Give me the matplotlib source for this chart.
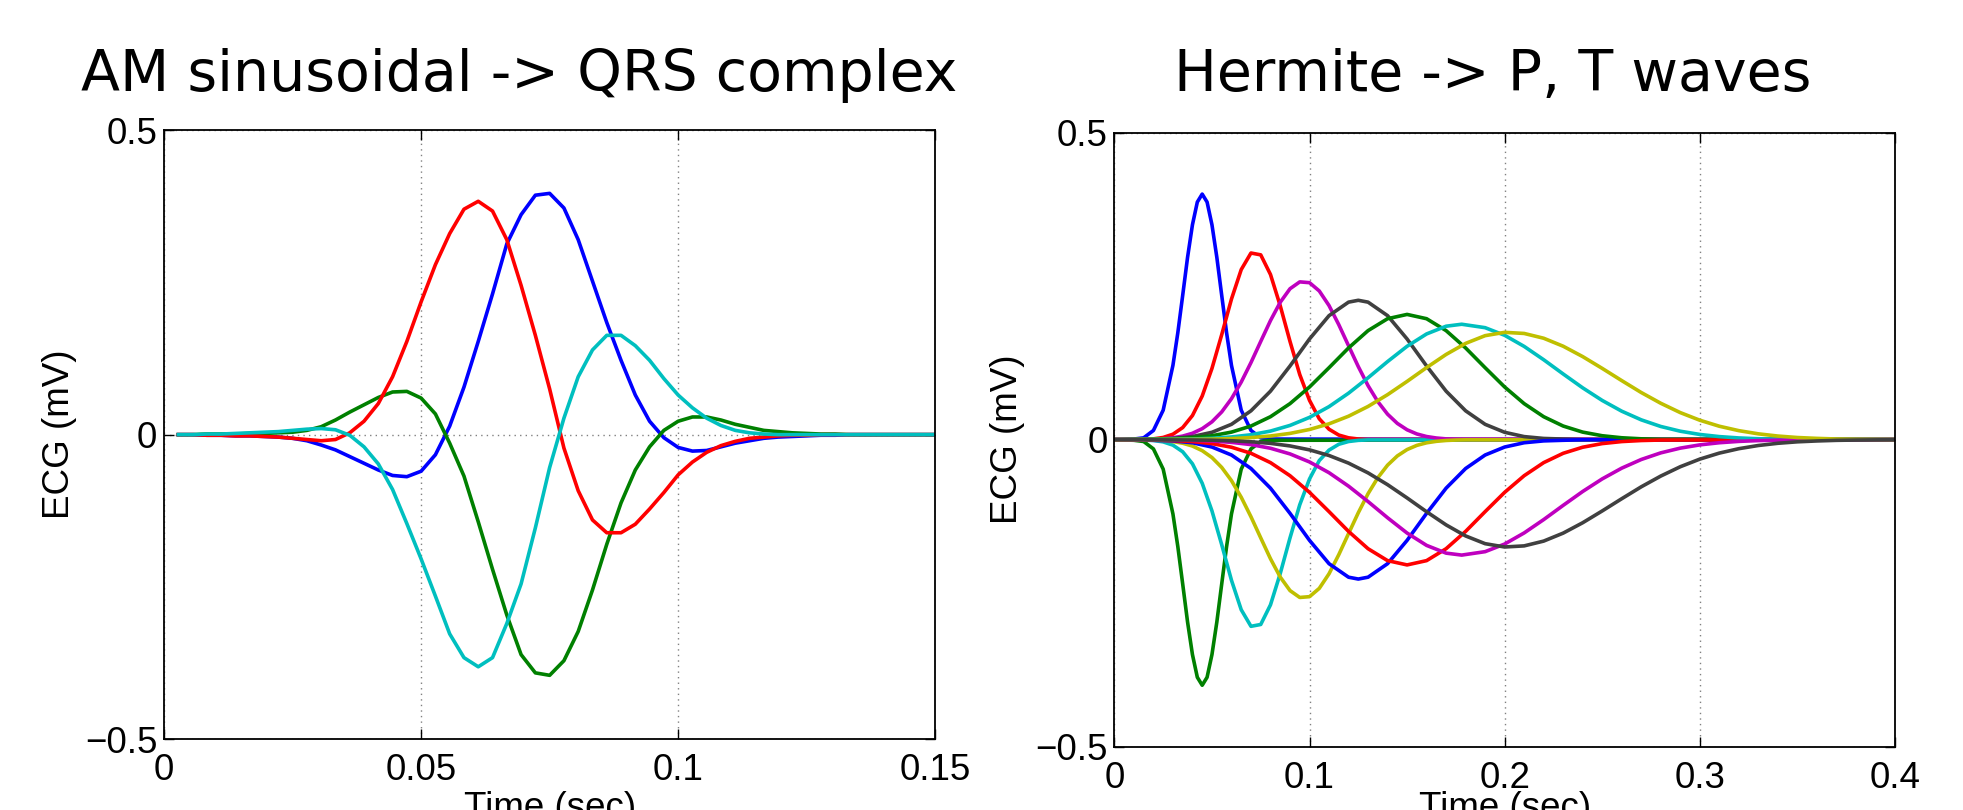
import numpy as np
import matplotlib.pyplot as plt

# ---- left panel: AM sinusoidal basis for the QRS complex (sampled at 360 Hz) ----
fs = 360.0
t_qrs = np.arange(1, 55) / fs

qrs_blue = [0, 0, -0.001, -0.001, -0.002, -0.002, -0.003, -0.004, -0.006, -0.010,
            -0.017, -0.025, -0.036, -0.047, -0.058, -0.067, -0.069, -0.060, -0.033, 0.014,
            0.078, 0.153, 0.231, 0.313, 0.361, 0.393, 0.396, 0.372, 0.320, 0.252,
            0.184, 0.122, 0.065, 0.022, -0.005, -0.021, -0.027, -0.026, -0.020, -0.014,
            -0.010, -0.006, -0.004, -0.003, -0.002, -0.001, -0.001, 0, 0, 0, 0, 0, 0, 0]
qrs_green = [0, 0, 0.001, 0.001, 0.001, 0.002, 0.002, 0.003, 0.004, 0.007,
             0.013, 0.024, 0.037, 0.049, 0.061, 0.070, 0.071, 0.060, 0.034, -0.014,
             -0.068, -0.143, -0.221, -0.296, -0.361, -0.391, -0.395, -0.371, -0.323, -0.255,
             -0.180, -0.112, -0.058, -0.020, 0.007, 0.022, 0.029, 0.029, 0.024, 0.017,
             0.012, 0.007, 0.005, 0.003, 0.002, 0.001, 0.001, 0, 0, 0, 0, 0, 0, 0]
qrs_red = [0, 0, -0.001, -0.001, -0.002, -0.002, -0.003, -0.004, -0.006, -0.008,
           -0.010, -0.008, 0.003, 0.022, 0.051, 0.095, 0.153, 0.218, 0.279, 0.330,
           0.370, 0.383, 0.367, 0.320, 0.245, 0.163, 0.075, -0.022, -0.092, -0.140,
           -0.161, -0.161, -0.147, -0.122, -0.095, -0.066, -0.045, -0.029, -0.018, -0.011,
           -0.006, -0.004, -0.002, -0.001, -0.001, 0, 0, 0, 0, 0, 0, 0, 0, 0]
qrs_cyan = [0, 0, 0.001, 0.001, 0.002, 0.003, 0.004, 0.005, 0.007, 0.009,
            0.010, 0.008, -0.001, -0.020, -0.048, -0.090, -0.146, -0.204, -0.265, -0.327,
            -0.366, -0.381, -0.366, -0.310, -0.245, -0.153, -0.054, 0.027, 0.095, 0.139,
            0.163, 0.163, 0.146, 0.122, 0.092, 0.065, 0.044, 0.027, 0.015, 0.007,
            0.003, 0.001, 0, 0, 0, 0, 0, 0, 0, 0, 0, 0, 0, 0]

# ---- right panel: Hermite basis for P and T waves, 7 widths, +/- ----
t_h0 = [0, 0.01, 0.015, 0.02, 0.025, 0.03, 0.0325, 0.035, 0.0375, 0.04, 0.0425, 0.045,
        0.0475, 0.05, 0.0525, 0.055, 0.0575, 0.06, 0.065, 0.07, 0.075, 0.08, 0.4]
h0_pos = [0, 0.001, 0.003, 0.015, 0.048, 0.121, 0.174, 0.235, 0.297, 0.350, 0.387, 0.400,
          0.387, 0.350, 0.297, 0.235, 0.174, 0.121, 0.048, 0.015, 0.003, 0.001, 0]
h0_neg = [0, -0.001, -0.003, -0.015, -0.048, -0.121, -0.174, -0.235, -0.297, -0.350, -0.387, -0.400,
          -0.387, -0.350, -0.297, -0.235, -0.174, -0.121, -0.048, -0.015, -0.003, -0.001, 0]

t_h1 = [0, 0.015, 0.02, 0.025, 0.03, 0.035, 0.04, 0.045, 0.05, 0.055, 0.06, 0.065, 0.07,
        0.075, 0.08, 0.085, 0.09, 0.095, 0.1, 0.105, 0.11, 0.115, 0.12, 0.125, 0.13, 0.4]
h1_pos = [0, 0.0005, 0.0013, 0.0036, 0.0089, 0.0197, 0.0393, 0.071, 0.116, 0.171, 0.229, 0.277, 0.304,
          0.301, 0.269, 0.218, 0.160, 0.106, 0.064, 0.034, 0.017, 0.0075, 0.003, 0.0011, 0.0004, 0]
h1_neg = [0, -0.0005, -0.0013, -0.0036, -0.0089, -0.0197, -0.0393, -0.071, -0.116, -0.171, -0.229, -0.277, -0.304,
          -0.301, -0.269, -0.218, -0.160, -0.106, -0.064, -0.034, -0.017, -0.0075, -0.003, -0.0011, -0.0004, 0]

t_h2 = [0, 0.02, 0.025, 0.03, 0.035, 0.04, 0.045, 0.05, 0.055, 0.06, 0.065, 0.07, 0.075, 0.08,
        0.085, 0.09, 0.095, 0.1, 0.105, 0.11, 0.115, 0.12, 0.125, 0.13, 0.135, 0.14, 0.145,
        0.15, 0.155, 0.16, 0.165, 0.17, 0.175, 0.18, 0.4]
h2_pos = [0, 0.0007, 0.0015, 0.0031, 0.0058, 0.0104, 0.0179, 0.0291, 0.0452, 0.0667, 0.0938, 0.1256, 0.160, 0.194,
          0.2238, 0.2458, 0.257, 0.2557, 0.2422, 0.2184, 0.1873, 0.153, 0.119, 0.088, 0.062, 0.0415, 0.0265,
          0.0161, 0.0093, 0.0051, 0.0027, 0.0013, 0.0006, 0.0003, 0]
h2_neg = [0, -0.0007, -0.0015, -0.0031, -0.0058, -0.0104, -0.0179, -0.0291, -0.0452, -0.0667, -0.0938, -0.1256, -0.160, -0.194,
          -0.2238, -0.2458, -0.257, -0.2557, -0.2422, -0.2184, -0.1873, -0.153, -0.119, -0.088, -0.062, -0.0415, -0.0265,
          -0.0161, -0.0093, -0.0051, -0.0027, -0.0013, -0.0006, -0.0003, 0]

t_h3 = [0, 0.02, 0.03, 0.04, 0.05, 0.06, 0.07, 0.08, 0.09, 0.1, 0.11, 0.12, 0.125, 0.13,
        0.14, 0.15, 0.16, 0.17, 0.18, 0.19, 0.2, 0.21, 0.22, 0.23, 0.24, 0.4]
h3_pos = [0, 0.001, 0.002, 0.005, 0.012, 0.025, 0.047, 0.079, 0.120, 0.164, 0.202, 0.224, 0.227, 0.224,
          0.202, 0.164, 0.120, 0.079, 0.047, 0.025, 0.012, 0.005, 0.002, 0.001, 0.0002, 0]
h3_neg = [0, -0.001, -0.002, -0.005, -0.012, -0.025, -0.047, -0.079, -0.120, -0.164, -0.202, -0.224, -0.227, -0.224,
          -0.202, -0.164, -0.120, -0.079, -0.047, -0.025, -0.012, -0.005, -0.002, -0.001, -0.0002, 0]

t_h4 = [0, 0.02, 0.03, 0.04, 0.05, 0.06, 0.07, 0.08, 0.09, 0.1, 0.11, 0.12, 0.13, 0.14, 0.15,
        0.16, 0.17, 0.18, 0.19, 0.2, 0.21, 0.22, 0.23, 0.24, 0.25, 0.26, 0.27, 0.28, 0.4]
h4_pos = [0, 0.0006, 0.0014, 0.0031, 0.0064, 0.0123, 0.0222, 0.0374, 0.0587, 0.0858, 0.1172, 0.1494, 0.1776, 0.197, 0.204,
          0.197, 0.1776, 0.1494, 0.1172, 0.0858, 0.0587, 0.0374, 0.0222, 0.0123, 0.0064, 0.0031, 0.0014, 0.0006, 0]
h4_neg = [0, -0.0006, -0.0014, -0.0031, -0.0064, -0.0123, -0.0222, -0.0374, -0.0587, -0.0858, -0.1172, -0.1494, -0.1776, -0.197, -0.204,
          -0.197, -0.1776, -0.1494, -0.1172, -0.0858, -0.0587, -0.0374, -0.0222, -0.0123, -0.0064, -0.0031, -0.0014, -0.0006, 0]

t_h5 = [0, 0.03, 0.04, 0.05, 0.06, 0.07, 0.08, 0.09, 0.1, 0.11, 0.12, 0.13, 0.14, 0.15, 0.16, 0.17,
        0.178, 0.19, 0.2, 0.21, 0.22, 0.23, 0.24, 0.25, 0.26, 0.27, 0.28, 0.29, 0.3, 0.31, 0.32,
        0.33, 0.34, 0.35, 0.36, 0.4]
h5_pos = [0, 0.0005, 0.0011, 0.0022, 0.0044, 0.008, 0.014, 0.0232, 0.0363, 0.0538, 0.0757, 0.1008, 0.1272, 0.1521, 0.1722, 0.1848,
          0.188, 0.1824, 0.17, 0.1519, 0.1302, 0.107, 0.0844, 0.0639, 0.0464, 0.0323, 0.0215, 0.0138, 0.0085, 0.005, 0.0028,
          0.0015, 0.0008, 0.0004, 0.0002, 0]
h5_neg = [0, -0.0005, -0.0011, -0.0022, -0.0044, -0.008, -0.014, -0.0232, -0.0363, -0.0538, -0.0757, -0.1008, -0.1272, -0.1521, -0.1722, -0.1848,
          -0.188, -0.1824, -0.17, -0.1519, -0.1302, -0.107, -0.0844, -0.0639, -0.0464, -0.0323, -0.0215, -0.0138, -0.0085, -0.005, -0.0028,
          -0.0015, -0.0008, -0.0004, -0.0002, 0]

t_h6 = [0, 0.04, 0.05, 0.06, 0.07, 0.08, 0.09, 0.1, 0.11, 0.12, 0.13, 0.14, 0.15, 0.16, 0.17, 0.18,
        0.19, 0.2, 0.21, 0.22, 0.23, 0.24, 0.25, 0.26, 0.27, 0.28, 0.29, 0.3, 0.31, 0.32, 0.33,
        0.34, 0.35, 0.36, 0.37, 0.38, 0.39, 0.4]
h6_pos = [0, 0.0005, 0.0009, 0.0018, 0.0034, 0.006, 0.0102, 0.0166, 0.0258, 0.0382, 0.0541, 0.0733, 0.0949, 0.1174, 0.1388, 0.1568,
          0.1694, 0.1748, 0.173, 0.1652, 0.1522, 0.1353, 0.1161, 0.0962, 0.0768, 0.0593, 0.0441, 0.0317, 0.0219, 0.0147, 0.0095,
          0.0059, 0.0035, 0.0021, 0.0011, 0.0006, 0.0003, 0.0001]
h6_neg = [0, -0.0005, -0.0009, -0.0018, -0.0034, -0.006, -0.0102, -0.0166, -0.0258, -0.0382, -0.0541, -0.0733, -0.0949, -0.1174, -0.1388, -0.1568,
          -0.1694, -0.1748, -0.173, -0.1652, -0.1522, -0.1353, -0.1161, -0.0962, -0.0768, -0.0593, -0.0441, -0.0317, -0.0219, -0.0147, -0.0095,
          -0.0059, -0.0035, -0.0021, -0.0011, -0.0006, -0.0003, -0.0001]

# old matlab colour order: b g r c m y k
colors = [(0, 0, 1), (0, 0.5, 0), (1, 0, 0), (0, 0.75, 0.75),
          (0.75, 0, 0.75), (0.75, 0.75, 0), (0.25, 0.25, 0.25)]

tick_font = 'Liberation Sans'
lw = 2.6

fig = plt.figure(figsize=(19.63, 8.10), dpi=100)
ax1 = fig.add_axes([0.0836, 0.0873, 0.3928, 0.7522])
ax2 = fig.add_axes([0.5677, 0.0782, 0.3976, 0.7580])


def style_axes(ax, xticks, xlabels):
    ax.set_ylim(-0.5, 0.5)
    ax.set_yticks([-0.5, 0, 0.5])
    ax.set_yticklabels(['\u22120.5', '0', '0.5'])
    ax.set_xticks(xticks)
    ax.set_xticklabels(xlabels)
    ax.tick_params(direction='in', top=True, right=True, length=7, width=1,
                   labelsize=26.5, color='black')
    ax.tick_params(axis='x', pad=10)
    ax.tick_params(axis='y', pad=5)
    for lab in ax.get_xticklabels() + ax.get_yticklabels():
        lab.set_fontfamily(tick_font)
    for sp in ax.spines.values():
        sp.set_linewidth(1.3)
    ax.grid(True, linestyle=(0, (1, 3)), color='0.5', linewidth=1.0)
    ax.set_axisbelow(True)
    ax.set_xlabel('Time (sec)', fontsize=26.5, family=tick_font, va='top')
    ax.set_ylabel('ECG (mV)', fontsize=26.5, family=tick_font)


# left panel
for y, c in zip([qrs_blue, qrs_green, qrs_red, qrs_cyan], colors):
    ax1.plot(t_qrs, y, color=c, lw=lw)
ax1.set_xlim(0, 0.15)
style_axes(ax1, [0, 0.05, 0.1, 0.15], ['0', '0.05', '0.1', '0.15'])
ax1.xaxis.set_label_coords(0.5, -0.085)
ax1.yaxis.set_label_coords(-0.113, 0.5)

# right panel, plotted pairwise (+, -) so the colour cycle matches
hermite = [(t_h0, h0_pos, h0_neg), (t_h1, h1_pos, h1_neg), (t_h2, h2_pos, h2_neg),
           (t_h3, h3_pos, h3_neg), (t_h4, h4_pos, h4_neg), (t_h5, h5_pos, h5_neg),
           (t_h6, h6_pos, h6_neg)]
i = 0
for t, p, n in hermite:
    ax2.plot(t, p, color=colors[i % 7], lw=lw)
    i += 1
    ax2.plot(t, n, color=colors[i % 7], lw=lw)
    i += 1
ax2.set_xlim(0, 0.4)
style_axes(ax2, [0, 0.1, 0.2, 0.3, 0.4], ['0', '0.1', '0.2', '0.3', '0.4'])
ax2.xaxis.set_label_coords(0.5, -0.073)
ax2.yaxis.set_label_coords(-0.1145, 0.5)

# panel titles
fig.text(0.2646, 1 - 91.4 / 810, 'AM sinusoidal -> QRS complex', fontsize=41,
         family='DejaVu Sans', ha='center', va='baseline')
fig.text(0.7606, 1 - 91.4 / 810, 'Hermite -> P, T waves', fontsize=41,
         family='DejaVu Sans', ha='center', va='baseline')

fig.savefig('out.png', dpi=100)
